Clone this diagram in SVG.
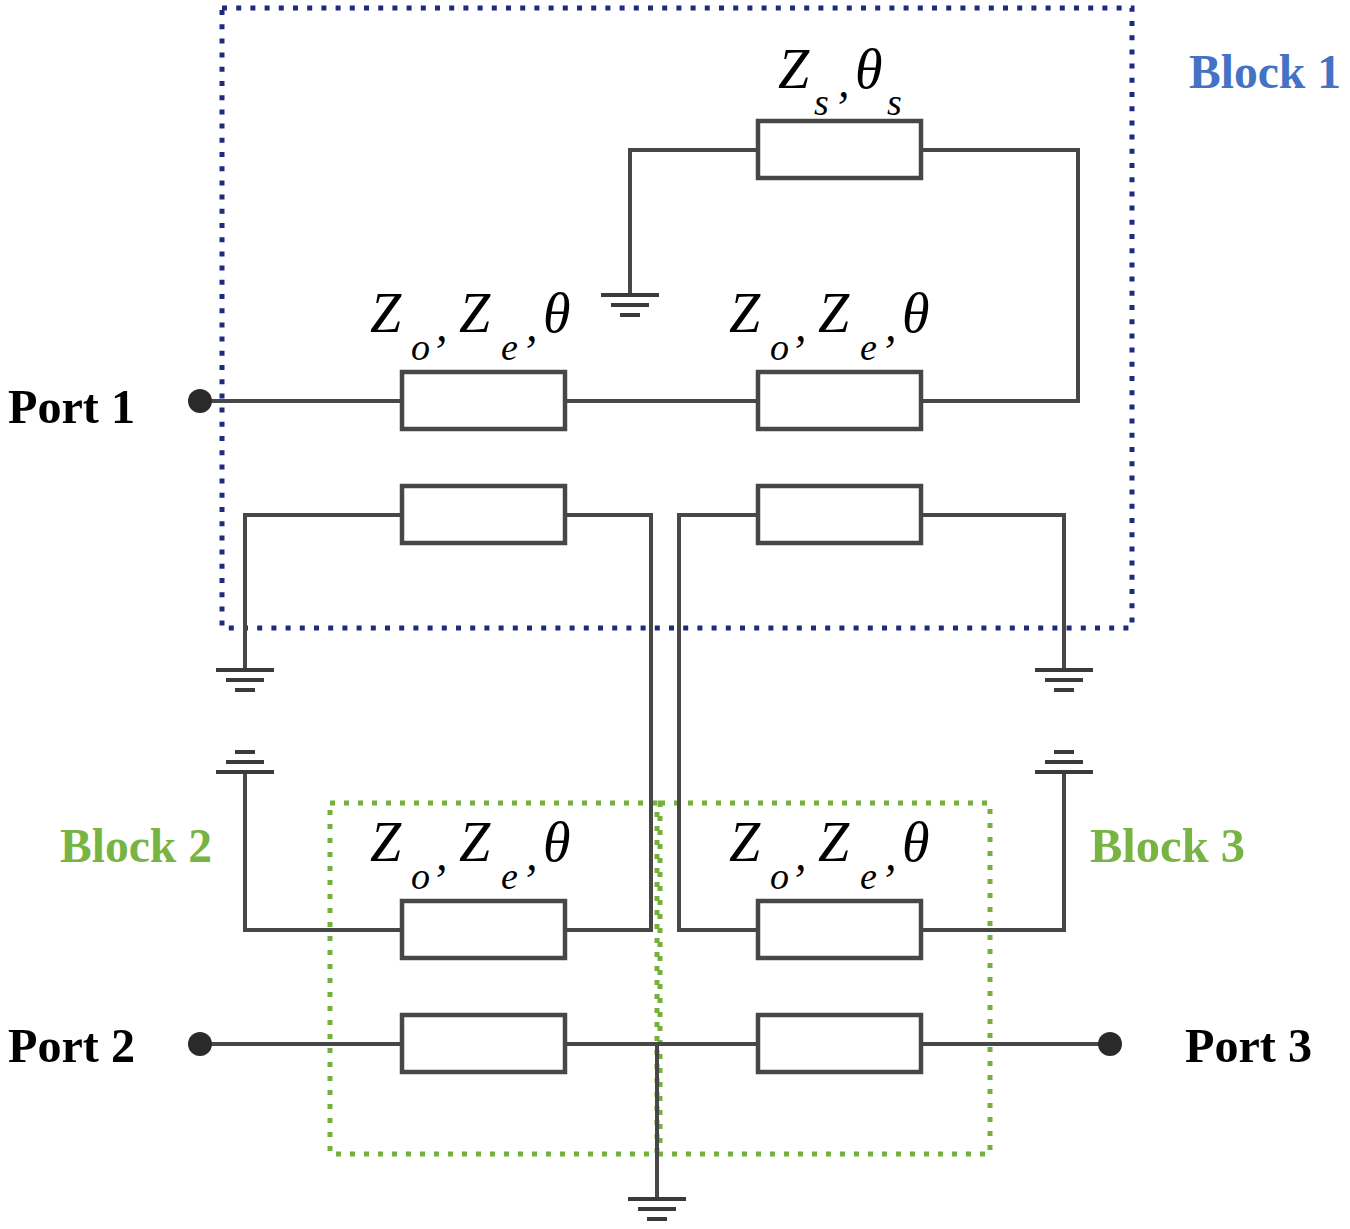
<svg xmlns="http://www.w3.org/2000/svg" width="1350" height="1229" viewBox="0 0 1350 1229">
<style>
.w{fill:none;stroke:#474747;stroke-width:4;stroke-linejoin:miter;stroke-linecap:butt}
.r{fill:#fff;stroke:#474747;stroke-width:4.5}
.g{fill:none;stroke:#3a3a3a;stroke-width:4}
.dot{fill:#2a2a2a}
.lbl{font-family:"Liberation Serif","Times New Roman",serif;font-style:italic;font-size:56px;fill:#000}
.sub{font-size:38px}
.cm{font-size:46px}
.bold{font-family:"Liberation Serif","Times New Roman",serif;font-weight:bold;font-size:48px}
.blue{fill:none;stroke:#1f2a7c;stroke-width:5;stroke-dasharray:5 9.2}
.green{fill:none;stroke:#74b03c;stroke-width:5;stroke-dasharray:5 9}
</style>
<rect width="1350" height="1229" fill="#fff"/>

<g id="block1-frame"><rect class="blue" x="222" y="8" width="910" height="620"/></g>
<g id="block2-frame"><rect class="green" x="330" y="803" width="327" height="351"/></g>
<g id="block3-frame"><rect class="green" x="660" y="803" width="330" height="351"/></g>

<g id="connectors">
<path class="w" d="M200 401H402"/>
<path class="w" d="M565 401H758"/>
<path class="w" d="M921 401H1078V150H921"/>
<path class="w" d="M758 150H630V295"/>
<path class="w" d="M402 515H245V670"/>
<path class="w" d="M565 515H651V930H565"/>
<path class="w" d="M758 515H679V930H758"/>
<path class="w" d="M921 515H1064V670"/>
<path class="w" d="M245 772V930H402"/>
<path class="w" d="M1064 772V930H921"/>
<path class="w" d="M200 1044H402"/>
<path class="w" d="M565 1044H758"/>
<path class="w" d="M921 1044H1110"/>
<path class="w" d="M657 1044V1199"/>
</g>

<g id="res-zs"><rect class="r" x="758" y="121" width="163" height="57"/></g>
<g id="res-1a"><rect class="r" x="402" y="372" width="163" height="57"/></g>
<g id="res-1b"><rect class="r" x="758" y="372" width="163" height="57"/></g>
<g id="res-2a"><rect class="r" x="402" y="486" width="163" height="57"/></g>
<g id="res-2b"><rect class="r" x="758" y="486" width="163" height="57"/></g>
<g id="res-3a"><rect class="r" x="402" y="901" width="163" height="57"/></g>
<g id="res-3b"><rect class="r" x="758" y="901" width="163" height="57"/></g>
<g id="res-4a"><rect class="r" x="402" y="1015" width="163" height="57"/></g>
<g id="res-4b"><rect class="r" x="758" y="1015" width="163" height="57"/></g>

<g id="gnd-1"><path class="g" d="M601 295H659M611 305H649M620 315H640"/></g>
<g id="gnd-2"><path class="g" d="M216 670H274M226 680H264M235 690H255"/></g>
<g id="gnd-3"><path class="g" d="M1035 670H1093M1045 680H1083M1054 690H1074"/></g>
<g id="gnd-4"><path class="g" d="M216 772H274M226 762H264M235 752H255"/></g>
<g id="gnd-5"><path class="g" d="M1035 772H1093M1045 762H1083M1054 752H1074"/></g>
<g id="gnd-6"><path class="g" d="M628 1199H686M638 1209H676M647 1219H667"/></g>

<g id="port1"><circle class="dot" cx="200" cy="401" r="12"/><text class="bold" x="8" y="423" textLength="127" lengthAdjust="spacingAndGlyphs">Port 1</text></g>
<g id="port2"><circle class="dot" cx="200" cy="1044" r="12"/><text class="bold" x="8" y="1062" textLength="127" lengthAdjust="spacingAndGlyphs">Port 2</text></g>
<g id="port3"><circle class="dot" cx="1110" cy="1044" r="12"/><text class="bold" x="1185" y="1062" textLength="127" lengthAdjust="spacingAndGlyphs">Port 3</text></g>

<g id="block-labels">
<text class="bold" x="1189" y="88" fill="#4472c4" textLength="152" lengthAdjust="spacingAndGlyphs">Block 1</text>
<text class="bold" x="60" y="862" fill="#78b443" textLength="152" lengthAdjust="spacingAndGlyphs">Block 2</text>
<text class="bold" x="1090" y="862" fill="#78b443" textLength="155" lengthAdjust="spacingAndGlyphs">Block 3</text>
</g>

<g id="label-zs"><text class="lbl"><tspan x="778" y="88">Z</tspan><tspan class="sub" x="814" y="115">s</tspan><tspan class="cm" x="838" y="97">,</tspan><tspan x="855" y="88">θ</tspan><tspan class="sub" x="887" y="115">s</tspan></text></g>

<g id="label-1a"><text class="lbl"><tspan x="370" y="332">Z</tspan><tspan class="sub" x="411" y="360">o</tspan><tspan class="cm" x="436" y="341">,</tspan><tspan x="459" y="332">Z</tspan><tspan class="sub" x="501" y="360">e</tspan><tspan class="cm" x="526" y="341">,</tspan><tspan x="543" y="332">θ</tspan></text></g>
<g id="label-1b"><text class="lbl"><tspan x="729" y="332">Z</tspan><tspan class="sub" x="770" y="360">o</tspan><tspan class="cm" x="795" y="341">,</tspan><tspan x="818" y="332">Z</tspan><tspan class="sub" x="860" y="360">e</tspan><tspan class="cm" x="885" y="341">,</tspan><tspan x="902" y="332">θ</tspan></text></g>
<g id="label-3a"><text class="lbl"><tspan x="370" y="861">Z</tspan><tspan class="sub" x="411" y="889">o</tspan><tspan class="cm" x="436" y="870">,</tspan><tspan x="459" y="861">Z</tspan><tspan class="sub" x="501" y="889">e</tspan><tspan class="cm" x="526" y="870">,</tspan><tspan x="543" y="861">θ</tspan></text></g>
<g id="label-3b"><text class="lbl"><tspan x="729" y="861">Z</tspan><tspan class="sub" x="770" y="889">o</tspan><tspan class="cm" x="795" y="870">,</tspan><tspan x="818" y="861">Z</tspan><tspan class="sub" x="860" y="889">e</tspan><tspan class="cm" x="885" y="870">,</tspan><tspan x="902" y="861">θ</tspan></text></g>
</svg>
